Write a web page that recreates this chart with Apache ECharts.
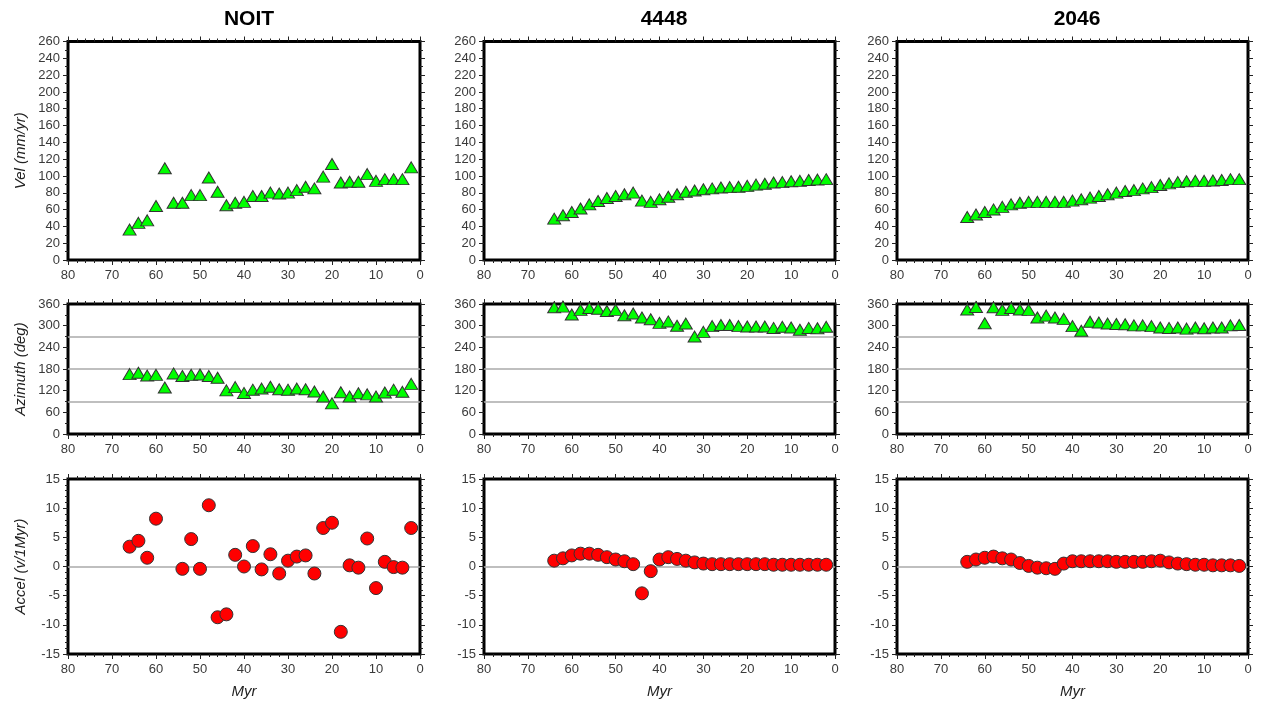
<!DOCTYPE html>
<html>
<head>
<meta charset="utf-8">
<script src="https://cdn.jsdelivr.net/npm/echarts@6/dist/echarts.min.js"></script>
<style>
html,body{margin:0;padding:0;background:#fff;}
#chart{width:1262px;height:708px;}
</style>
</head>
<body>
<div id="chart"></div>
<script>
// ---- data ----
const panelTitles = ['NOIT', '4448', '2046'];
const rowNames = ['Vel (mm/yr)', 'Azimuth (deg)', 'Accel (v/1Myr)'];
const xName = 'Myr';

const noitAgeVel = [66,64,62,60,58,56,54,52,50,48,46,44,42,40,38,36,34,32,30,28,26,24,22,20,18,16,14,12,10,8,6,4,2];
const noitVel = [35,43,46,63,108,67,67,76,76,97,80,64,67,68,75,75,79,78,79,82,86,84,98,113,91,92,92,101,93,95,95,95,109];
const noitAz  = [163,167,159,161,126,165,158,161,162,158,153,118,127,111,120,123,128,121,120,123,121,115,101,82,113,101,110,107,101,112,120,114,136];
const noitAgeAcc = [66,64,62,60,54,52,50,48,46,44,42,40,38,36,34,32,30,28,26,24,22,20,18,16,14,12,10,8,6,4,2];
const noitAcc = [3.4,4.4,1.5,8.2,-0.4,4.7,-0.4,10.5,-8.7,-8.2,2.0,0.0,3.5,-0.5,2.1,-1.2,1.0,1.7,1.9,-1.2,6.6,7.5,-11.2,0.2,-0.2,4.8,-3.7,0.8,-0.1,-0.2,6.6];

const age4448 = [64,62,60,58,56,54,52,50,48,46,44,42,40,38,36,34,32,30,28,26,24,22,20,18,16,14,12,10,8,6,4,2];
const vel4448 = [48,52,56,60,65,69,72.5,75,77,79,69.5,68,71,74,77,80,81.5,83,84,85,85.5,86,87,88.5,89.5,91,91.5,92.5,93,94,94.5,95];
const az4448  = [348,350,328,341,346,344,338,341,326,331,320,315,305,309,297,303,267,280,296,299,299,296,295,295,295,291,294,292,286,291,290,294];
const acc4448 = [1.0,1.4,1.9,2.2,2.2,2.0,1.6,1.2,0.9,0.4,-4.6,-0.8,1.2,1.6,1.3,1.0,0.7,0.5,0.4,0.4,0.4,0.4,0.4,0.4,0.4,0.3,0.3,0.3,0.3,0.3,0.3,0.3];

const age2046 = [64,62,60,58,56,54,52,50,48,46,44,42,40,38,36,34,32,30,28,26,24,22,20,18,16,14,12,10,8,6,4,2];
const vel2046 = [50,53,56,59,62,65,67,68,68,68,68,68,69.5,71,73,75,77,79,81,82,84,85.5,88,90,91.5,92.5,93,93,93.5,94,95,95];
const az2046  = [342,349,304,348,341,346,342,341,320,325,320,316,296,283,308,306,303,302,301,298,298,296,292,291,292,289,292,290,292,292,298,299];
const acc2046 = [0.8,1.2,1.5,1.7,1.4,1.2,0.6,0.1,-0.2,-0.3,-0.4,0.5,0.9,0.9,0.9,0.9,0.9,0.8,0.8,0.8,0.8,0.9,1.0,0.7,0.5,0.4,0.3,0.3,0.2,0.2,0.2,0.1];

const xTicks = {min: 0, max: 80, interval: 10};
const yTicks = [
  {min: 0, max: 260, interval: 20, minorSplit: 2},
  {min: 0, max: 360, interval: 60, minorSplit: 2},
  {min: -15, max: 15, interval: 5, minorSplit: 5}
];
const refLines = [[], [90, 180, 270], [0]];

// ---- layout ----
const colLeft = [68, 484, 897];
const colWidth = [352, 351, 351];
const rowTop = [41.5, 304, 479];
const rowHeight = [218.5, 130, 175];

const panels = [
  [ [noitAgeVel, noitVel], [noitAgeVel, noitAz], [noitAgeAcc, noitAcc] ],
  [ [age4448, vel4448], [age4448, az4448], [age4448, acc4448] ],
  [ [age2046, vel2046], [age2046, az2046], [age2046, acc2046] ]
];

const labelFont = {fontFamily: 'Liberation Sans, Arial, sans-serif', fontSize: 13, color: '#3a3a3a'};
const nameFont = {fontFamily: 'Liberation Sans, Arial, sans-serif', fontStyle: 'italic', fontSize: 15, color: '#222'};
const grids = [], xAxes = [], yAxes = [], series = [];
let gi = 0;
for (let c = 0; c < 3; c++) {
  for (let r = 0; r < 3; r++) {
    grids.push({left: colLeft[c], top: rowTop[r], width: colWidth[c], height: rowHeight[r],
      show: true, borderColor: '#000', borderWidth: 3, backgroundColor: '#fff', containLabel: false});
    const yt = yTicks[r];
    const xBase = {
      type: 'value', gridIndex: gi, inverse: true, min: xTicks.min, max: xTicks.max, interval: xTicks.interval,
      axisLine: {show: false, onZero: false}, splitLine: {show: false},
      axisTick: {show: true, inside: false, length: 5, lineStyle: {color: '#222', width: 1}},
      minorTick: {show: true, splitNumber: 5, length: 3, lineStyle: {color: '#222', width: 1}}
    };
    xAxes.push(Object.assign({}, xBase, {position: 'bottom',
      axisLabel: Object.assign({margin: 9}, labelFont),
      name: r === 2 ? xName : '', nameLocation: 'middle', nameGap: 30,
      nameTextStyle: nameFont
    }));
    xAxes.push(Object.assign({}, xBase, {position: 'top', axisLabel: {show: false}}));
    const yBase = {
      type: 'value', gridIndex: gi, min: yt.min, max: yt.max, interval: yt.interval,
      axisLine: {show: false, onZero: false}, splitLine: {show: false},
      axisTick: {show: true, inside: false, length: 5, lineStyle: {color: '#222', width: 1}},
      minorTick: {show: true, splitNumber: yt.minorSplit, length: 3, lineStyle: {color: '#222', width: 1}}
    };
    yAxes.push(Object.assign({}, yBase, {position: 'left',
      axisLabel: Object.assign({margin: 8}, labelFont),
      name: c === 0 ? rowNames[r] : '', nameLocation: 'middle', nameGap: 40, nameRotate: 90,
      nameTextStyle: nameFont
    }));
    yAxes.push(Object.assign({}, yBase, {position: 'right', axisLabel: {show: false}}));

    const [xs, ys] = panels[c][r];
    const pts = xs.map((x, i) => [x, ys[i]]);
    const isAcc = r === 2;
    series.push({
      type: 'scatter', xAxisIndex: gi * 2, yAxisIndex: gi * 2, data: pts,
      clip: false,
      symbol: isAcc ? 'circle' : 'triangle',
      symbolSize: isAcc ? 13 : [13, 11],
      symbolOffset: isAcc ? [0, 0] : [0, -1],
      itemStyle: {color: isAcc ? '#ff0000' : '#00ff00', borderColor: '#333', borderWidth: 1, opacity: 1},
      z: 5,
      markLine: refLines[r].length ? {
        silent: true, symbol: 'none', animation: false, z: 1,
        label: {show: false},
        lineStyle: {color: '#aaaaaa', width: 1.5, type: 'solid'},
        data: refLines[r].map(v => ({yAxis: v}))
      } : undefined
    });
    gi++;
  }
}

const titleX = [244, 659, 1072];

const chart = echarts.init(document.getElementById('chart'), null, {renderer: 'canvas'});
chart.setOption({
  animation: false,
  backgroundColor: '#fff',
  grid: grids, xAxis: xAxes, yAxis: yAxes, series: series,
  title: panelTitles.map((t, i) => ({
    text: t, left: titleX[i], top: 4, textAlign: 'center',
    textStyle: {fontFamily: 'Liberation Sans, Arial, sans-serif', fontSize: 21, fontWeight: 'bold', color: '#000'}
  }))
});
</script>
</body>
</html>
